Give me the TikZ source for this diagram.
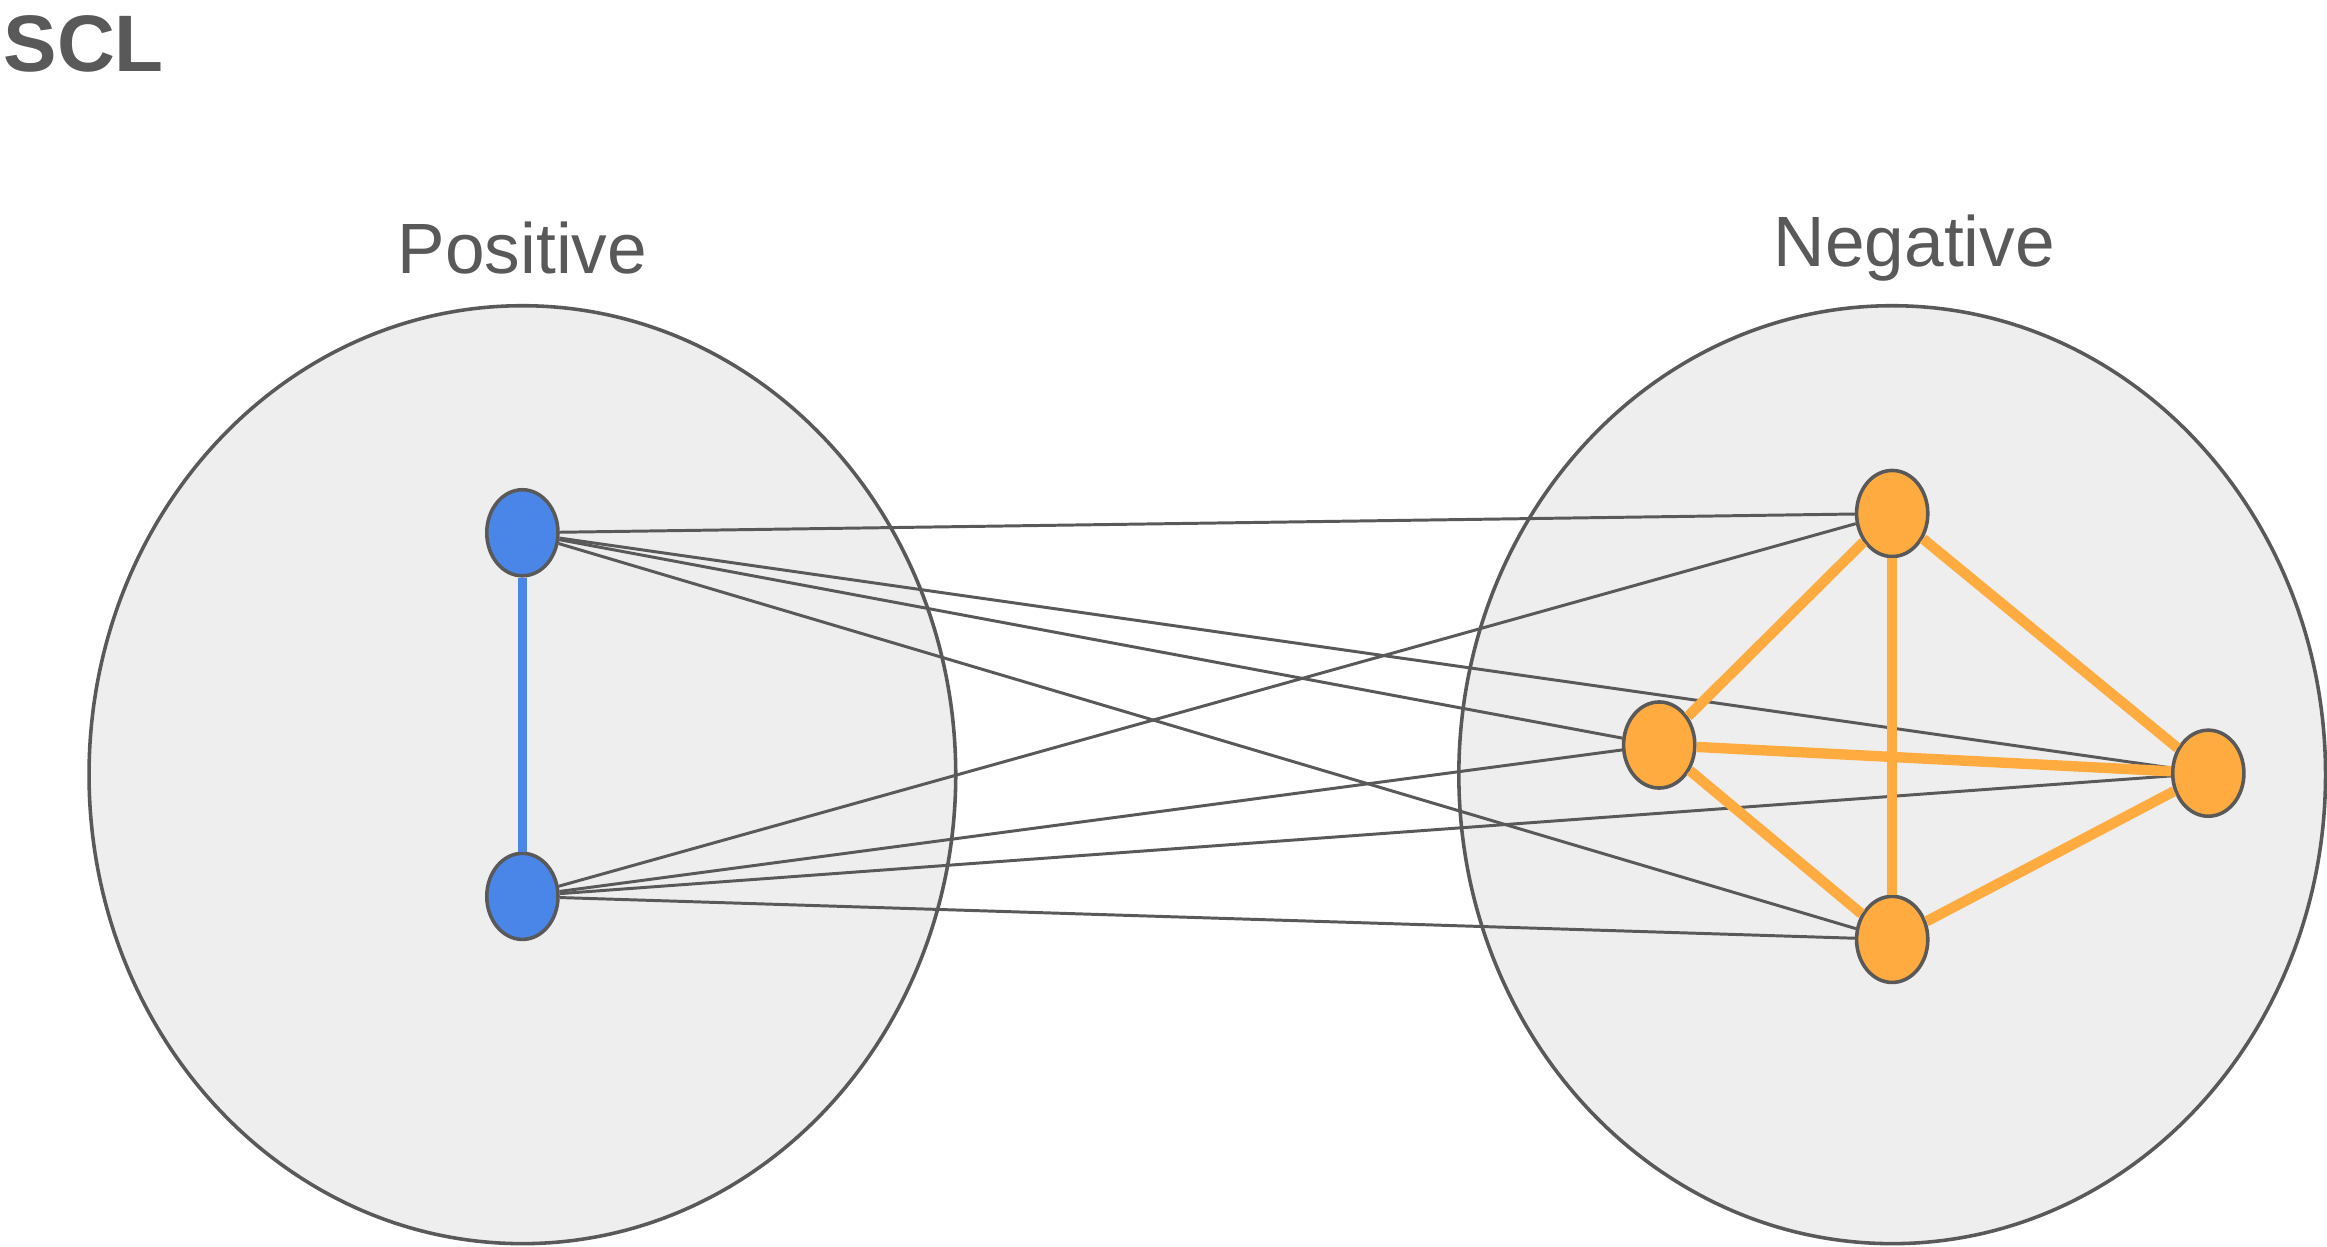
\documentclass[tikz,border=0pt]{standalone}
\usepackage{fontspec}
\setmainfont{Liberation Sans}
\usetikzlibrary{shapes.geometric}
\definecolor{edgegray}{RGB}{89,89,89}
\definecolor{setfill}{RGB}{238,238,238}
\definecolor{posblue}{RGB}{74,134,232}
\definecolor{negorange}{RGB}{255,171,64}
\begin{document}
\begin{tikzpicture}[x=0.5pt,y=-0.5pt,
  setshape/.style={draw=edgegray,line width=1.2pt,fill=setfill},
  sample/.style={ellipse,draw=edgegray,line width=1.2pt,minimum width=24pt,minimum height=29pt,inner sep=0pt},
  possample/.style={sample,fill=posblue},
  negsample/.style={sample,fill=negorange},
  pair/.style={draw=edgegray,line width=1pt},
  poslink/.style={draw=posblue,line width=3.2pt},
  neglink/.style={draw=negorange,line width=3.5pt},
  title/.style={text=edgegray,font=\fontsize{24}{28}\selectfont}]
\useasboundingbox (0,0) rectangle (1568,840);
% sets
\draw[setshape] (352,522) ellipse [x radius=292,y radius=316];
\draw[setshape] (1275,522) ellipse [x radius=292,y radius=316];
% labels
\node[anchor=north west,inner sep=0pt,text=edgegray,font=\fontsize{27}{30}\selectfont\bfseries] (scl) at (2,10) {SCL};
\node[title] (postitle) at (352,167) {Positive};
\node[title] (negtitle) at (1290,167) {Negative};
% samples
\node[possample] (p1) at (352,359) {};
\node[possample] (p2) at (352,604) {};
\node[negsample] (na) at (1275,346) {};
\node[negsample] (nb) at (1118,502) {};
\node[negsample] (nc) at (1488,521) {};
\node[negsample] (nd) at (1275,633) {};
% negative pairs
\foreach \s/\t in {p1/na,p1/nb,p1/nc,p1/nd,p2/na,p2/nb,p2/nc,p2/nd}
  \draw[pair] (\s) -- (\t);
% positive pair
\draw[poslink] (p1) -- (p2);
% among negatives
\foreach \s/\t in {na/nb,na/nc,na/nd,nb/nc,nb/nd,nd/nc}
  \draw[neglink] (\s) -- (\t);
\end{tikzpicture}
\end{document}
